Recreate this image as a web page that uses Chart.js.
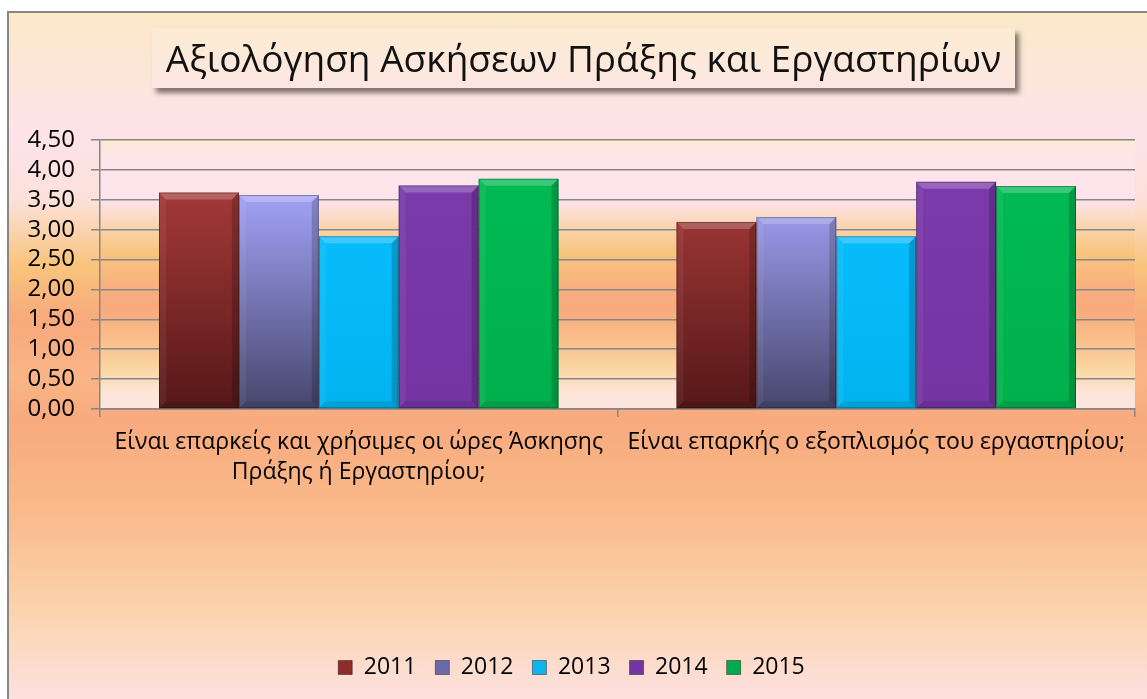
<!DOCTYPE html>
<html>
<head>
<meta charset="utf-8">
<script src="https://cdn.jsdelivr.net/npm/chart.js@4"></script>
<style>
  html, body { margin: 0; padding: 0; background: #fff; overflow: hidden; }
  #frame {
    position: absolute; left: 7px; top: 11px; width: 1160px; height: 700px;
    border-left: 2px solid #878787; border-top: 2px solid #878787;
    background: linear-gradient(to bottom,
      #fbe9c8 0%, #fce6d8 8%, #fde3ea 18%, #fce0d8 27%, #f9c47c 36%,
      #f8a97c 44%, #f9b586 52%, #f8aa7e 58%, #f9b888 70%, #fbd3ac 85%, #fde0dc 97%);
  }
  #title {
    position: absolute; left: 152px; top: 28px; width: 863px; height: 60px;
    background: linear-gradient(to bottom, #fcecd2, #fde6e2);
    box-shadow: 4px 5px 5px rgba(0,0,0,0.5);
    font-family: "Open Sans", sans-serif; font-size: 37px; color: #111;
    text-align: center; line-height: 60px; white-space: nowrap; z-index: 2;
  }
  #wrap { position: absolute; left: 0; top: 0; width: 1147px; height: 699px; z-index: 1; }
</style>
</head>
<body>
<div id="frame"></div>
<div id="title">Αξιολόγηση Ασκήσεων Πράξης και Εργαστηρίων</div>
<div id="wrap"><canvas id="chart" width="1147" height="699"></canvas></div>
<script>
// DATA
const categories = [
  ['Είναι επαρκείς και χρήσιμες οι ώρες Άσκησης', 'Πράξης ή Εργαστηρίου;'],
  'Είναι επαρκής ο εξοπλισμός του εργαστηρίου;'
];
const years = ['2011', '2012', '2013', '2014', '2015'];
const values2011 = [3.62, 3.13];
const values2012 = [3.58, 3.21];
const values2013 = [2.89, 2.89];
const values2014 = [3.74, 3.80];
const values2015 = [3.85, 3.73];
const yTickLabels = ['0,00', '0,50', '1,00', '1,50', '2,00', '2,50', '3,00', '3,50', '4,00', '4,50'];

// colours: [top, bottom] of each bar gradient, plus legend swatch
const barColors = [
  ['#a83a3a', '#561818'],
  ['#a8a8ff', '#46466c'],
  ['#0abfff', '#00b4f0'],
  ['#7a3aaa', '#7434a2'],
  ['#00ba54', '#00b04c']
];
const legendColors = ['#8e2c2c', '#6a6aa8', '#10b4ec', '#7434a2', '#00aa4c'];

function gradientFor(i) {
  return function (ctx) {
    const area = ctx.chart.chartArea;
    if (!area) return barColors[i][0];
    const g = ctx.chart.ctx.createLinearGradient(0, area.top + 40, 0, area.bottom);
    g.addColorStop(0, barColors[i][0]);
    g.addColorStop(1, barColors[i][1]);
    return g;
  };
}

const series = [values2011, values2012, values2013, values2014, values2015];

// plot area background bands
const plotBg = {
  id: 'plotBg',
  beforeDraw(chart) {
    const { ctx, chartArea: a } = chart;
    const g = ctx.createLinearGradient(0, a.top, 0, a.bottom);
    g.addColorStop(0, '#fbebd0');
    g.addColorStop(0.05, '#fde5e8');
    g.addColorStop(0.22, '#fde4ec');
    g.addColorStop(0.35, '#f9d0a0');
    g.addColorStop(0.42, '#f8c57e');
    g.addColorStop(0.55, '#f8b080');
    g.addColorStop(0.62, '#f8a97e');
    g.addColorStop(0.75, '#f9c08c');
    g.addColorStop(0.85, '#fad6a0');
    g.addColorStop(0.93, '#fde4d6');
    g.addColorStop(1, '#fde6e0');
    ctx.save();
    ctx.fillStyle = g;
    ctx.fillRect(a.left, a.top, a.right - a.left, a.bottom - a.top);
    ctx.restore();
  }
};

// bevel edges on bars
const bevel = {
  id: 'bevel',
  afterDatasetsDraw(chart) {
    const ctx = chart.ctx;
    const b = 7;
    chart.data.datasets.forEach((ds, di) => {
      chart.getDatasetMeta(di).data.forEach(bar => {
        const l = bar.x - bar.width / 2, r = bar.x + bar.width / 2;
        const t = bar.y, btm = bar.base;
        ctx.save();
        ctx.fillStyle = 'rgba(255,255,255,0.22)';
        ctx.beginPath();
        ctx.moveTo(l, t); ctx.lineTo(r, t); ctx.lineTo(r - b, t + b); ctx.lineTo(l + b, t + b);
        ctx.closePath(); ctx.fill();
        ctx.fillStyle = 'rgba(0,0,0,0.18)';
        ctx.beginPath();
        ctx.moveTo(r, t); ctx.lineTo(r, btm); ctx.lineTo(r - b, btm - b); ctx.lineTo(r - b, t + b);
        ctx.closePath(); ctx.fill();
        ctx.fillStyle = 'rgba(0,0,0,0.1)';
        ctx.beginPath();
        ctx.moveTo(l, btm); ctx.lineTo(r, btm); ctx.lineTo(r - b, btm - b); ctx.lineTo(l + b, btm - b);
        ctx.closePath(); ctx.fill();
        ctx.fillStyle = 'rgba(255,255,255,0.06)';
        ctx.beginPath();
        ctx.moveTo(l, t); ctx.lineTo(l + b, t + b); ctx.lineTo(l + b, btm - b); ctx.lineTo(l, btm);
        ctx.closePath(); ctx.fill();
        ctx.strokeStyle = 'rgba(0,0,0,0.3)';
        ctx.lineWidth = 1;
        ctx.strokeRect(l + 0.5, t + 0.5, r - l - 1, btm - t - 1);
        ctx.restore();
      });
    });
  }
};

new Chart(document.getElementById('chart'), {
  type: 'bar',
  data: {
    labels: categories,
    datasets: years.map((y, i) => ({
      label: y,
      data: series[i],
      backgroundColor: gradientFor(i),
      borderWidth: 0,
      categoryPercentage: 0.772,
      barPercentage: 1.0
    }))
  },
  options: {
    responsive: false,
    animation: false,
    layout: { padding: { left: 8, top: 140, right: 12, bottom: 10 } },
    plugins: {
      tooltip: { enabled: false },
      legend: {
        position: 'bottom',
        labels: {
          font: { family: 'Open Sans', size: 23 },
          color: '#000',
          boxWidth: 14,
          boxHeight: 14,
          padding: 19,
          generateLabels(chart) {
            return years.map((y, i) => ({
              text: y,
              fillStyle: legendColors[i],
              strokeStyle: 'rgba(0,0,0,0.4)',
              lineWidth: 1,
              datasetIndex: i,
              hidden: false
            }));
          }
        }
      }
    },
    scales: {
      x: {
        grid: { drawOnChartArea: false, offset: true, color: '#868686', tickLength: 8, lineWidth: 1.5 },
        border: { color: '#868686', width: 1.5 },
        ticks: {
          font: { family: 'Open Sans', size: 23, lineHeight: 1.3 },
          color: '#000',
          padding: 11,
          maxRotation: 0,
          autoSkip: false
        },
        afterFit(scale) { scale.height = 228; }
      },
      y: {
        min: 0,
        max: 4.5,
        ticks: {
          stepSize: 0.5,
          autoSkip: false,
          font: { family: 'Open Sans', size: 24, lineHeight: 1.1 },
          color: '#000',
          padding: 16,
          callback: (v, i) => yTickLabels[i]
        },
        grid: { color: '#868686', lineWidth: 1.5, tickLength: 9 },
        border: { color: '#868686', width: 1.5 },
        afterFit(scale) { scale.width = 92; }
      }
    }
  },
  plugins: [plotBg, bevel]
});
</script>
</body>
</html>
